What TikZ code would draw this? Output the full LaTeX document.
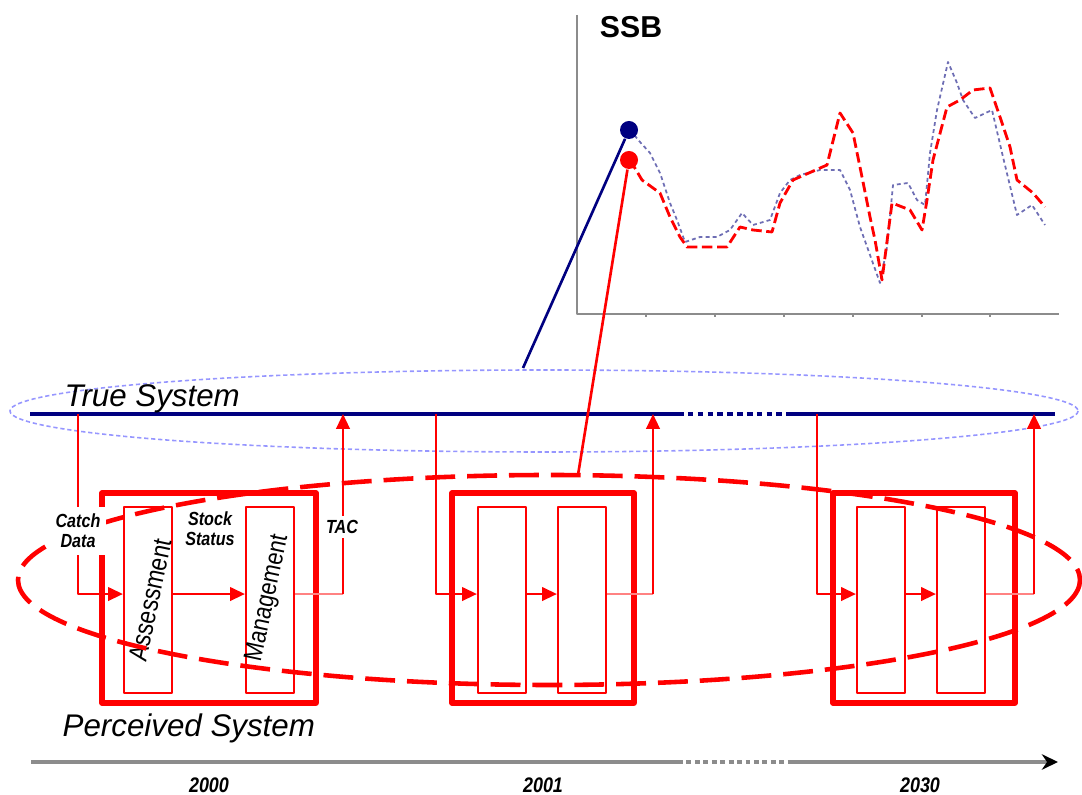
\documentclass[tikz,border=0pt]{standalone}
\usepackage{fontspec}
\setmainfont{Liberation Sans}
\newfontfamily\narrowfont[FakeStretch=0.85]{Liberation Sans}
\usetikzlibrary{arrows.meta}
\definecolor{navy}{RGB}{0,0,128}
\definecolor{feedpink}{RGB}{255,130,130}
\definecolor{axisgray}{RGB}{140,140,140}
\definecolor{ssbblue}{RGB}{110,110,180}
\definecolor{ringblue}{RGB}{150,150,255}
\begin{document}
\begin{tikzpicture}[x=0.01cm, y=-0.01cm, line join=round, >={Triangle[length=4.2pt,width=3.8pt]},
	outerbox/.style={draw=red, line width=1.45pt},
	stagebox/.style={draw=red, line width=0.6pt, minimum width=0.48cm, minimum height=1.86cm, inner sep=0pt},
	flow/.style={red, line width=0.7pt},
	feed/.style={feedpink, line width=0.5pt},
	smalllabel/.style={font=\narrowfont\bfseries\itshape\fontsize{5.4}{5.8}\selectfont, align=center, fill=white, inner sep=1pt},
	systemtitle/.style={font=\itshape\fontsize{8.9}{11}\selectfont, anchor=base west, inner sep=0pt},
	yearlabel/.style={font=\narrowfont\bfseries\itshape\fontsize{6}{7}\selectfont, inner sep=0pt}]
	
	\useasboundingbox (0,0) rectangle (1082,795);
	
	\draw[axisgray, line width=0.6pt] (577,15) -- (577,314) -- (1059,314);
	\foreach \x in {646,715,784,853,922,990} {
		\draw[axisgray, line width=0.6pt] (\x,314) -- (\x,317);
	}
	\node[font=\bfseries\fontsize{8.6}{10}\selectfont] (ssb) at (631,27) {SSB};
	\draw[ssbblue, line width=0.5pt, dash pattern=on 1.1pt off 0.9pt] plot coordinates {(630,130) (640,142) (650,153) (660,173) (670,203) (677,220) (685,242) (700,237) (717,237) (730,230) (742,213) (753,225) (770,220) (780,193) (790,180) (800,175) (820,170) (840,170) (850,190) (860,227) (880,283) (887,247) (893,185) (908,183) (917,200) (925,205) (930,153) (937,110) (948,62) (957,83) (963,100) (975,118) (992,110) (1003,157) (1017,215) (1032,205) (1045,225)};
	\draw[red, line width=0.8pt, dash pattern=on 3pt off 1.3pt] plot coordinates {(630,160) (642,180) (653,188) (660,193) (670,217) (680,237) (687,247) (727,247) (740,227) (753,230) (772,232) (780,203) (793,180) (827,165) (840,113) (853,133) (862,177) (870,217) (875,240) (882,280) (892,203) (910,210) (922,230) (927,200) (933,160) (947,107) (960,100) (973,90) (990,88) (1000,117) (1010,147) (1017,180) (1033,193) (1045,207)};
	\node[circle, fill=navy, inner sep=0pt, minimum size=0.18cm] (bdot) at (629,130) {};
	\node[circle, fill=red, inner sep=0pt, minimum size=0.18cm] (rdot) at (629,160) {};
	
	\draw[ringblue, line width=0.45pt, dash pattern=on 1.2pt off 0.8pt] (544,411) ellipse [x radius=534, y radius=41];
	\coordinate (ts0) at (30,414);
	\coordinate (ts1) at (678,414);
	\coordinate (ts2) at (788,414);
	\coordinate (ts3) at (1055,414);
	\draw[navy, line width=1.15pt] (ts0) -- (ts1) (ts2) -- (ts3);
	\draw[navy, line width=1.15pt, dash pattern=on 1.6pt off 1.2pt] (ts1) -- (ts2);
	\node[systemtitle] (truesys) at (64,407) {True System};
	\coordinate (tstop) at (523,368);
	\draw[navy, line width=0.75pt] (bdot) -- (tstop);
	
	\foreach \i/\ox/\ow/\ca/\cb/\xin/\xout in {1/102/214/148/270/78/343, 2/452/182/502/582/436/653, 3/833/182/881/961/817/1034} {
		\draw[outerbox] (\ox,493) rectangle ++(\ow,210);
		\node[stagebox] (as\i) at (\ca,600) {};
		\node[stagebox] (mg\i) at (\cb,600) {};
		\coordinate (in\i) at (\xin,414);
		\coordinate (out\i) at (\xout,414);
		\coordinate (turn\i) at (\xout,594);
		\draw[flow, ->] (in\i) |- ([yshift=1.7pt]as\i.west);
		\draw[flow, ->] ([yshift=1.7pt]as\i.east) -- ([yshift=1.7pt]mg\i.west);
		\draw[feed] ([yshift=1.7pt]mg\i.east) -- (turn\i);
		\draw[flow, ->] (turn\i) -- (out\i);
	}
	\node[rotate=78, font=\narrowfont\fontsize{7.6}{8}\selectfont, inner sep=0pt] (asstext) at (150,600) {Assessment};
	\node[rotate=78, font=\narrowfont\fontsize{7.35}{8}\selectfont, inner sep=0pt] (mgtext) at (268,598) {Management};
	
	\draw[red, line width=1.3pt, dash pattern=on 8.5pt off 3.4pt] (549,580) ellipse [x radius=531, y radius=105];
	\coordinate (pstop) at (578,475);
	\draw[red, line width=0.75pt] (rdot) -- (pstop);
	
	\node[smalllabel, minimum width=0.56cm, minimum height=0.47cm] (catch) at (78,531) {Catch\\Data};
	\node[smalllabel] (stock) at (210,529) {Stock\\Status};
	\node[smalllabel, minimum height=0.21cm] (tac) at (342,527) {TAC};
	\node[systemtitle] (percsys) at (62,737) {Perceived System};
	
	\coordinate (t0) at (31,762);
	\coordinate (t1) at (678,762);
	\coordinate (t2) at (792,762);
	\coordinate (t3) at (1058,762);
	\draw[axisgray, line width=0.9pt] (t0) -- (t1);
	\draw[axisgray, line width=0.9pt, dash pattern=on 1.4pt off 1pt] (t1) -- (t2);
	\draw[axisgray, line width=0.9pt, -{Stealth[length=4.6pt, width=4.4pt, black]}] (t2) -- (t3);
	\node[yearlabel] (y2000) at (209,785) {2000};
	\node[yearlabel] (y2001) at (543,785) {2001};
	\node[yearlabel] (y2030) at (920,785) {2030};
\end{tikzpicture}
\end{document}
